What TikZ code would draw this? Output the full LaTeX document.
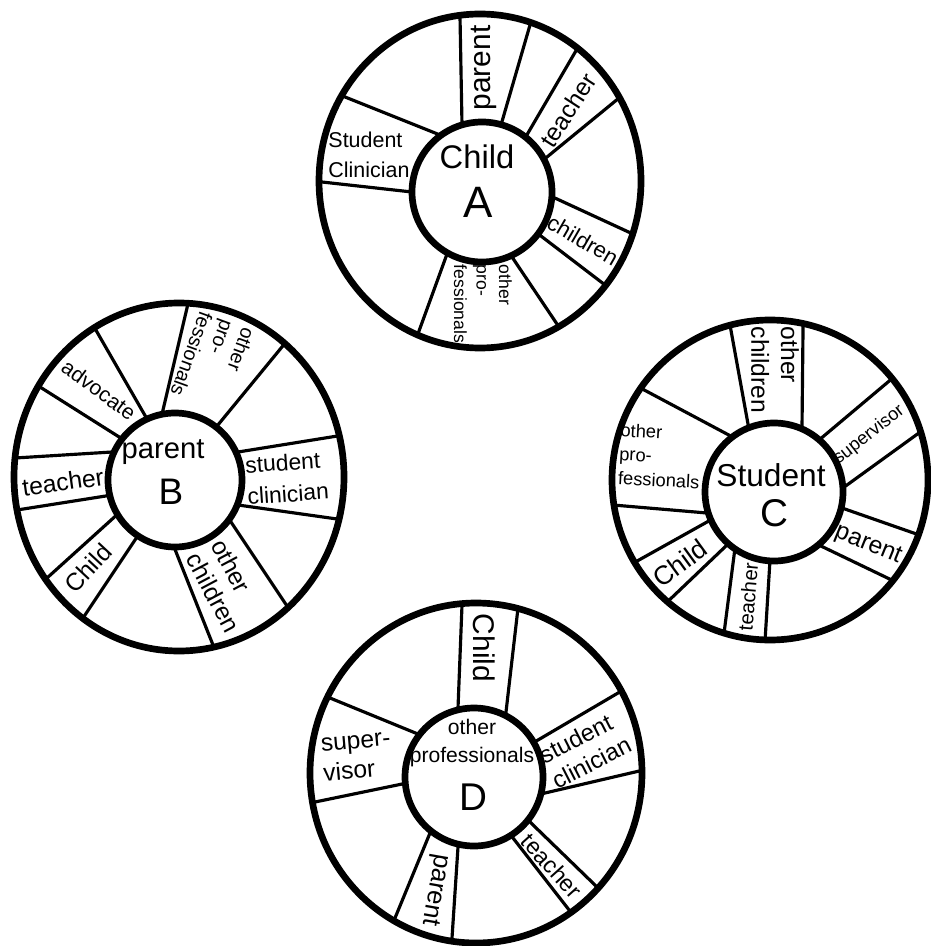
\documentclass[tikz,border=0pt]{standalone}
\usepackage{fontspec}
\setmainfont{Liberation Sans}
\newcommand\myfs[2]{\fontsize{#1}{#2}\selectfont}
\tikzset{
  rim/.style={line width=1.9pt},
  hub/.style={line width=1.9pt, fill=white},
  spoke/.style={line width=0.9pt, shorten <=-4pt, shorten >=-4pt},
  lab/.style={inner sep=0pt, font=\myfs{#1}{#1}},
  mlab/.style 2 args={inner sep=0pt, align=left, font=\myfs{#1}{#2}},
  clab/.style 2 args={inner sep=0pt, align=center, font=\myfs{#1}{#2}}
}
\begin{document}
\begin{tikzpicture}[x=0.01cm, y=-0.01cm]
\useasboundingbox (0,0) rectangle (931,946);
\fill[white] (0,0) rectangle (931,946);

% ---------------- Wheel A ----------------
\begin{scope}
\clip (480,181) ellipse [x radius=161, y radius=167];
\draw[spoke] (460,17) -- (462,125);
\draw[spoke] (530,25) -- (501,125);
\draw[spoke] (577,49) -- (528,133);
\draw[spoke] (619,98) -- (547,157);
\draw[spoke] (557,199) -- (635,235);
\draw[spoke] (537,233) -- (609,288);
\draw[spoke] (512,257) -- (563,333);
\draw[spoke] (447,254) -- (415,342);
\draw[spoke] (322,182) -- (412,192);
\draw[spoke] (345,97) -- (435,133);
\end{scope}
\draw[rim] (480,181) ellipse [x radius=161, y radius=167];
\draw[hub] (482,192) circle [radius=70];
\node[lab=8.5, rotate=90] (Aparent) at (484,68) {parent};
\node[lab=7, rotate=57] (Ateacher) at (568,110) {teacher};
\node[lab=6.3, rotate=-30] (Achildren) at (583,240) {children};
\node[mlab={5}{6.4}, rotate=-90] (Aother) at (483,304) {other\\pro-\\fessionals};
\node[mlab={6.1}{8.5}] (Astudent) at (369,155) {Student\\Clinician};
\node[lab=9.3] (Achild) at (477,157) {Child};
\node[lab=12.5] (Aletter) at (478,202) {A};

% ---------------- Wheel B ----------------
\begin{scope}
\clip (179,477) ellipse [x radius=165, y radius=174];
\draw[spoke] (187,308) -- (163,410);
\draw[spoke] (277,353) -- (222,420);
\draw[spoke] (97,332) -- (143,412);
\draw[spoke] (40,387) -- (116,435);
\draw[spoke] (15,458) -- (112,452);
\draw[spoke] (17,510) -- (112,495);
\draw[spoke] (47,578) -- (120,512);
\draw[spoke] (85,615) -- (135,540);
\draw[spoke] (178,557) -- (215,650);
\draw[spoke] (233,525) -- (285,603);
\draw[spoke] (238,452) -- (325,438);
\draw[spoke] (238,505) -- (330,518);
\end{scope}
\draw[rim] (179,477) ellipse [x radius=165, y radius=174];
\draw[hub] (175,480) circle [radius=67];
\node[mlab={5.6}{6.4}, rotate=-110] (Bother) at (213,362) {other\\pro-\\fessionals};
\node[lab=6, rotate=-36] (Badvocate) at (99,390) {advocate};
\node[lab=7, rotate=8] (Bteacher) at (63,482) {teacher};
\node[lab=7, rotate=47] (Bchild) at (88,568) {Child};
\node[mlab={7}{8}, rotate=-62] (Bchildren) at (226,586) {other\\children};
\node[mlab={6.5}{9}, rotate=4] (Bstudent) at (287,478) {student\\clinician};
\node[lab=8.3] (Bparent) at (163,452) {parent};
\node[lab=10.5] (Bletter) at (171,492) {B};

% ---------------- Wheel C ----------------
\begin{scope}
\clip (770,480) ellipse [x radius=158, y radius=160];
\draw[spoke] (730,325) -- (750,435);
\draw[spoke] (803,330) -- (802,427);
\draw[spoke] (888,382) -- (825,435);
\draw[spoke] (923,430) -- (847,485);
\draw[spoke] (842,508) -- (925,537);
\draw[spoke] (823,547) -- (902,585);
\draw[spoke] (770,560) -- (765,641);
\draw[spoke] (735,548) -- (723,641);
\draw[spoke] (707,522) -- (630,565);
\draw[spoke] (727,545) -- (662,607);
\draw[spoke] (613,505) -- (707,513);
\draw[spoke] (648,392) -- (725,433);
\end{scope}
\draw[rim] (770,480) ellipse [x radius=158, y radius=160];
\draw[hub] (774,492) circle [radius=69];
\node[mlab={7}{8.5}, rotate=-90] (Cother) at (775,370) {other\\children};
\node[lab=5.2, rotate=38] (Csuper) at (869,435) {supervisor};
\node[lab=7, rotate=-22] (Cparent) at (868,545) {parent};
\node[lab=5.8, rotate=85] (Cteacher) at (748,597) {teacher};
\node[lab=7.5, rotate=36] (Cchild) at (680,563) {Child};
\node[mlab={5.2}{6.8}, rotate=-3] (Cprof) at (660,456) {other\\pro-\\fessionals};
\node[lab=9] (Cstudent) at (771,475) {Student};
\node[lab=11] (Cletter) at (774,513) {C};

% ---------------- Wheel D ----------------
\begin{scope}
\clip (476,773) ellipse [x radius=166, y radius=170];
\draw[spoke] (462,605) -- (458,708);
\draw[spoke] (518,608) -- (506,712);
\draw[spoke] (618,693) -- (538,740);
\draw[spoke] (635,772) -- (545,793);
\draw[spoke] (530,822) -- (597,887);
\draw[spoke] (513,838) -- (573,915);
\draw[spoke] (458,847) -- (452,938);
\draw[spoke] (430,833) -- (395,918);
\draw[spoke] (315,802) -- (407,783);
\draw[spoke] (330,698) -- (413,732);
\end{scope}
\draw[rim] (476,773) ellipse [x radius=166, y radius=170];
\draw[hub] (474,777) circle [radius=69];
\node[lab=8.5, rotate=-90] (Dchild) at (484,648) {Child};
\node[mlab={6.8}{8}, rotate=27] (Dstudent) at (585,750) {student\\clinician};
\node[lab=6.6, rotate=-48] (Dteacher) at (552,866) {teacher};
\node[lab=7.3, rotate=-100] (Dparent) at (435,890) {parent};
\node[mlab={7}{8.5}, rotate=5] (Dsuper) at (357,757) {super-\\visor};
\node[clab={6}{8}] (Dother) at (472,743) {other\\professionals};
\node[lab=11] (Dletter) at (473,797) {D};
\end{tikzpicture}
\end{document}
